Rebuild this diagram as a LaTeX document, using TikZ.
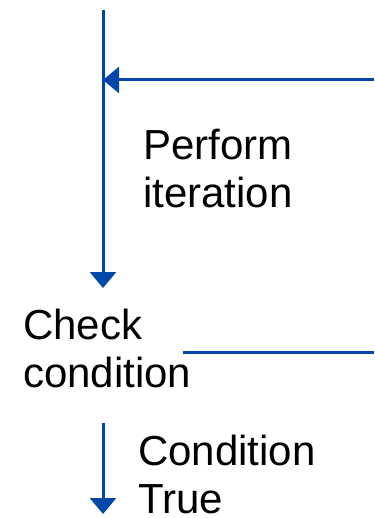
\documentclass[tikz,border=0pt]{standalone}
\usepackage{fontspec}
\setmainfont{Liberation Sans}
\usetikzlibrary{arrows.meta}
\definecolor{flowblue}{RGB}{0,72,170}
\begin{document}
\begin{tikzpicture}[x=1pt,y=1pt,
  lbl/.style={inner sep=0pt, align=left, anchor=base west, font=\fontsize{42}{48}\selectfont},
  conn/.style={draw=flowblue, line width=3pt},
  arr/.style={conn, -{Triangle[length=16pt,width=26pt]}, fill=flowblue}]
\useasboundingbox (0,0) rectangle (374,-518);
\coordinate (top) at (103,-10);
\coordinate (vhead) at (103,-288);
\coordinate (rin) at (374,-80);
\coordinate (join) at (103,-80);
\coordinate (rout) at (374,-352);
\coordinate (dtop) at (103,-423);
\coordinate (dend) at (103,-514);
\coordinate (lend) at (183,-352);
\node[lbl] (perform) at (143,-208) {Perform\\iteration};
\node[lbl] (check) at (23,-387) {Check\\condition};
\node[lbl] (ctrue) at (138,-513) {Condition\\True};
\draw[arr] (top) -- (vhead);
\draw[arr] (rin) -- (join);
\draw[conn] (lend) -- (rout);
\draw[arr] (dtop) -- (dend);
\end{tikzpicture}
\end{document}
